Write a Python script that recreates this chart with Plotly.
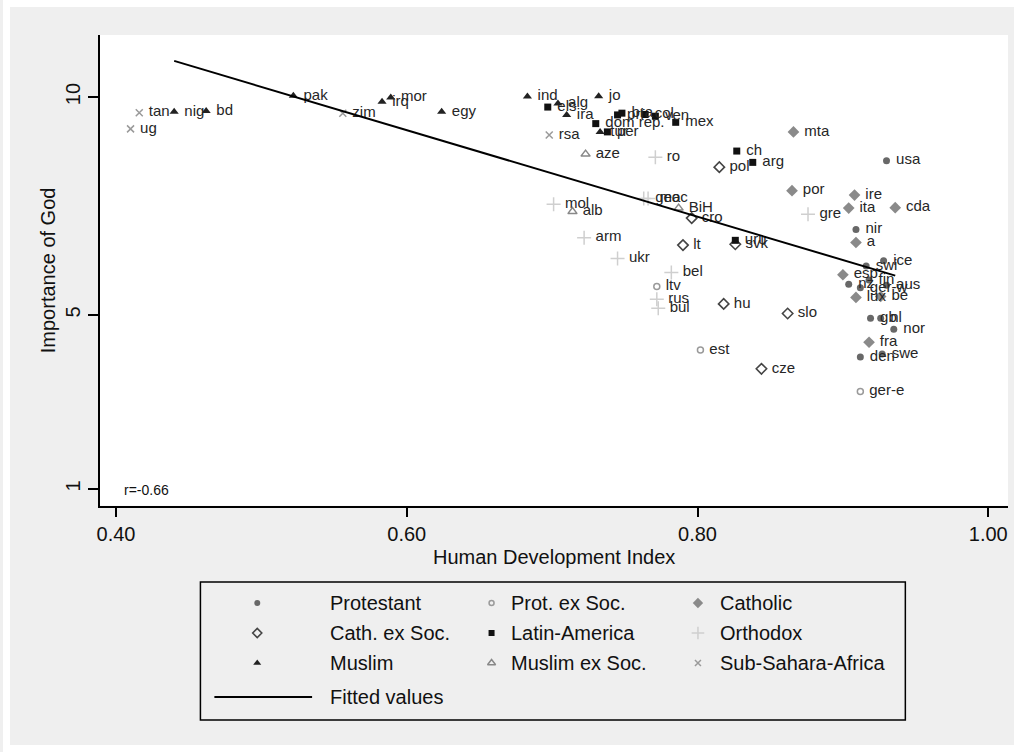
import plotly.graph_objects as go

W, H = 1021, 752
FONT = "Liberation Sans, Arial, sans-serif"

# ---- data: one entry per country -------------------------------------------
countries = [
    "nig", "bd", "pak", "irq", "mor", "egy", "ind", "alg", "ira", "jo", "tur",
    "aze", "alb", "BiH",
    "tan", "ug", "zim", "rsa",
    "els", "dom rep.", "per", "pri", "bra", "col", "ven", "mex", "ch", "arg", "uru",
    "ro", "geo", "mac", "mol", "arm", "ukr", "bel", "rus", "bul", "gre",
    "pol", "cro", "lt", "svk", "hu", "slo", "cze",
    "ltv", "est", "ger-e",
    "mta", "por", "ire", "ita", "cda", "a", "esp", "lux", "be", "fra",
    "usa", "nir", "ice", "swi", "fin", "nz", "ger-w", "aus", "gb", "nl", "nor", "den", "swe",
]
hdi = [
    0.440, 0.462, 0.522, 0.583, 0.589, 0.624, 0.683, 0.704, 0.710, 0.732, 0.733,
    0.723, 0.714, 0.787,
    0.416, 0.410, 0.556, 0.698,
    0.697, 0.730, 0.738, 0.745, 0.748, 0.764, 0.771, 0.785, 0.827, 0.838, 0.826,
    0.771, 0.763, 0.766, 0.701, 0.722, 0.745, 0.782, 0.772, 0.773, 0.876,
    0.815, 0.796, 0.790, 0.826, 0.818, 0.862, 0.844,
    0.772, 0.802, 0.912,
    0.866, 0.865, 0.908, 0.904, 0.936, 0.909, 0.900, 0.909, 0.926, 0.918,
    0.930, 0.909, 0.928, 0.916, 0.918, 0.904, 0.912, 0.930, 0.919, 0.926, 0.935, 0.912, 0.927,
]
god = [
    9.66, 9.68, 10.03, 9.89, 9.99, 9.66, 10.01, 9.85, 9.59, 10.02, 9.20,
    8.69, 7.37, 7.45,
    9.64, 9.27, 9.63, 9.13,
    9.77, 9.39, 9.20, 9.59, 9.63, 9.60, 9.56, 9.42, 8.76, 8.50, 6.71,
    8.62, 7.67, 7.67, 7.54, 6.77, 6.29, 5.97, 5.36, 5.15, 7.31,
    8.39, 7.22, 6.60, 6.62, 5.25, 5.03, 3.76,
    5.65, 4.19, 3.24,
    9.20, 7.85, 7.75, 7.45, 7.46, 6.66, 5.92, 5.40, 5.42, 4.37,
    8.54, 6.96, 6.24, 6.12, 5.80, 5.70, 5.62, 5.68, 4.92, 4.92, 4.67, 4.03, 4.10,
]
group = (
    ["Muslim"] * 11
    + ["Muslim ex Soc."] * 3
    + ["Sub-Sahara-Africa"] * 4
    + ["Latin-America"] * 11
    + ["Orthodox"] * 10
    + ["Cath. ex Soc."] * 7
    + ["Prot. ex Soc."] * 3
    + ["Catholic"] * 10
    + ["Protestant"] * 13
)

# legend order (row by row, three columns)
groups = [
    "Protestant", "Prot. ex Soc.", "Catholic",
    "Cath. ex Soc.", "Latin-America", "Orthodox",
    "Muslim", "Muslim ex Soc.", "Sub-Sahara-Africa",
]

# fitted regression line at the smallest and largest fitted HDI
fit_hdi = [0.440, 0.936]
fit_god = [10.83, 5.90]
fit_label = "Fitted values"
r_label = "r=-0.66"

x_tickvals = [0.4, 0.6, 0.8, 1.0]
x_ticktext = ["0.40", "0.60", "0.80", "1.00"]
y_tickvals = [1, 5, 10]
y_ticktext = ["1", "5", "10"]

# ---- marker styles ---------------------------------------------------------
styles = {
    "Protestant": dict(symbol="circle", size=7, color="#686868", lw=0),
    "Prot. ex Soc.": dict(symbol="circle-open", size=6, color="#9a9a9a", lw=1.5),
    "Catholic": dict(symbol="diamond", size=9, color="#8a8a8a", lw=0),
    "Cath. ex Soc.": dict(symbol="diamond-open", size=8, color="#444444", lw=1.6),
    "Latin-America": dict(symbol="square", size=7, color="#111111", lw=0),
    "Orthodox": dict(symbol="cross-thin-open", size=10, color="#cfcfcf", lw=1.5),
    "Muslim": dict(symbol="triangle-up", size=8, color="#222222", lw=0),
    "Muslim ex Soc.": dict(symbol="triangle-up-open", size=8, color="#888888", lw=1.5),
    "Sub-Sahara-Africa": dict(symbol="x-thin-open", size=7, color="#9a9a9a", lw=1.5),
}

fig = go.Figure()

# country markers with their labels to the right
for g in groups:
    idx = [i for i, gg in enumerate(group) if gg == g]
    st = styles[g]
    fig.add_trace(go.Scatter(
        x=[hdi[i] for i in idx],
        y=[god[i] for i in idx],
        text=["\u00a0" + countries[i] for i in idx],
        mode="markers+text",
        textposition="middle right",
        textfont=dict(family=FONT, size=15, color="#262626"),
        marker=dict(symbol=st["symbol"], size=st["size"], color=st["color"],
                    line=dict(width=st["lw"], color=st["color"])),
        cliponaxis=False,
        showlegend=False,
        xaxis="x", yaxis="y",
    ))

fig.add_trace(go.Scatter(
    x=fit_hdi, y=fit_god, mode="lines",
    line=dict(color="black", width=2),
    showlegend=False, xaxis="x", yaxis="y",
))

# ---- frame geometry (pixels) ----------------------------------------------
PL, PR, PT, PB = 97.3, 1008.0, 35.0, 505.7


def fx(p):
    return p / W


def fy(p):
    return 1 - p / H


# ---- hand-built legend (pixel overlay axes) --------------------------------
leg_box = (198, 582, 905, 720)
leg_rows = [603, 633, 663]
leg_mark_x = [255, 490, 697]
leg_text_x = [326, 507, 717]
leg_fit_row = 697
leg_fit_line = (212, 310)

for k, g in enumerate(groups):
    r, c = divmod(k, 3)
    st = styles[g]
    fig.add_trace(go.Scatter(
        x=[leg_mark_x[c]], y=[leg_rows[r]], mode="markers",
        marker=dict(symbol=st["symbol"], size=max(st["size"] - 1, 5), color=st["color"],
                    line=dict(width=st["lw"], color=st["color"])),
        showlegend=False, xaxis="x2", yaxis="y2", hoverinfo="skip",
    ))

fig.add_trace(go.Scatter(
    x=list(leg_fit_line), y=[leg_fit_row, leg_fit_row], mode="lines",
    line=dict(color="black", width=2),
    showlegend=False, xaxis="x2", yaxis="y2", hoverinfo="skip",
))

annotations = []
for k, g in enumerate(groups):
    r, c = divmod(k, 3)
    annotations.append(dict(
        x=fx(leg_text_x[c]), y=fy(leg_rows[r]), xref="paper", yref="paper",
        text=g, showarrow=False, xanchor="left", yanchor="middle",
        font=dict(family=FONT, size=20, color="#111111"),
    ))
annotations.append(dict(
    x=fx(leg_text_x[0]), y=fy(leg_fit_row), xref="paper", yref="paper",
    text=fit_label, showarrow=False, xanchor="left", yanchor="middle",
    font=dict(family=FONT, size=20, color="#111111"),
))

# axis titles and correlation note
annotations.append(dict(
    x=fx((PL + PR) / 2), y=fy(557), xref="paper", yref="paper",
    text="Human Development Index", showarrow=False,
    xanchor="center", yanchor="middle",
    font=dict(family=FONT, size=20, color="#111111"),
))
annotations.append(dict(
    x=fx(45), y=fy((PT + PB) / 2), xref="paper", yref="paper",
    text="Importance of God", showarrow=False, textangle=-90,
    xanchor="center", yanchor="middle",
    font=dict(family=FONT, size=20, color="#111111"),
))
annotations.append(dict(
    x=fx(119), y=fy(490), xref="paper", yref="paper",
    text=r_label, showarrow=False, xanchor="left", yanchor="middle",
    font=dict(family=FONT, size=14, color="#111111"),
))

shapes = [
    # white plotting region
    dict(type="rect", xref="paper", yref="paper", layer="below",
         x0=fx(PL), x1=fx(PR), y0=fy(PB), y1=fy(PT),
         fillcolor="white", line=dict(width=0)),
    # legend frame
    dict(type="rect", xref="paper", yref="paper", layer="below",
         x0=fx(leg_box[0]), x1=fx(leg_box[2]), y0=fy(leg_box[3]), y1=fy(leg_box[1]),
         fillcolor="rgba(0,0,0,0)", line=dict(color="black", width=1.5)),
]
# thin white outer margin around the graph region
edge = 7
for x0, y0, x1, y1 in [(0, 0, W, edge), (0, H - edge, W, H), (0, 0, edge, H), (W - edge, 0, W, H)]:
    shapes.append(dict(type="rect", xref="paper", yref="paper", layer="below",
                       x0=fx(x0), x1=fx(x1), y0=fy(y1), y1=fy(y0),
                       fillcolor="white", line=dict(width=0)))

axis_font = dict(family=FONT, size=20, color="#111111")

fig.update_layout(
    width=W, height=H,
    margin=dict(l=0, r=0, t=0, b=0),
    paper_bgcolor="#efefef",
    plot_bgcolor="rgba(0,0,0,0)",
    showlegend=False,
    annotations=annotations,
    shapes=shapes,
    xaxis=dict(
        domain=[fx(PL), fx(PR)], range=[0.389, 1.0136], anchor="y",
        tickvals=x_tickvals, ticktext=x_ticktext, tickfont=axis_font,
        ticks="outside", ticklen=10, tickwidth=1.5, tickcolor="black",
        showline=True, linecolor="black", linewidth=1.5,
        showgrid=False, zeroline=False, fixedrange=True,
    ),
    yaxis=dict(
        domain=[fy(PB), fy(PT)], range=[0.6165, 11.425], anchor="x",
        tickvals=y_tickvals, ticktext=y_ticktext, tickfont=axis_font, tickangle=-90,
        ticks="outside", ticklen=10, tickwidth=1.5, tickcolor="black",
        showline=True, linecolor="black", linewidth=1.5,
        showgrid=False, zeroline=False, fixedrange=True,
    ),
    xaxis2=dict(domain=[0, 1], range=[0, W], anchor="y2", visible=False, fixedrange=True),
    yaxis2=dict(domain=[0, 1], range=[H, 0], anchor="x2", visible=False, fixedrange=True),
)

fig.write_html("out.html")
